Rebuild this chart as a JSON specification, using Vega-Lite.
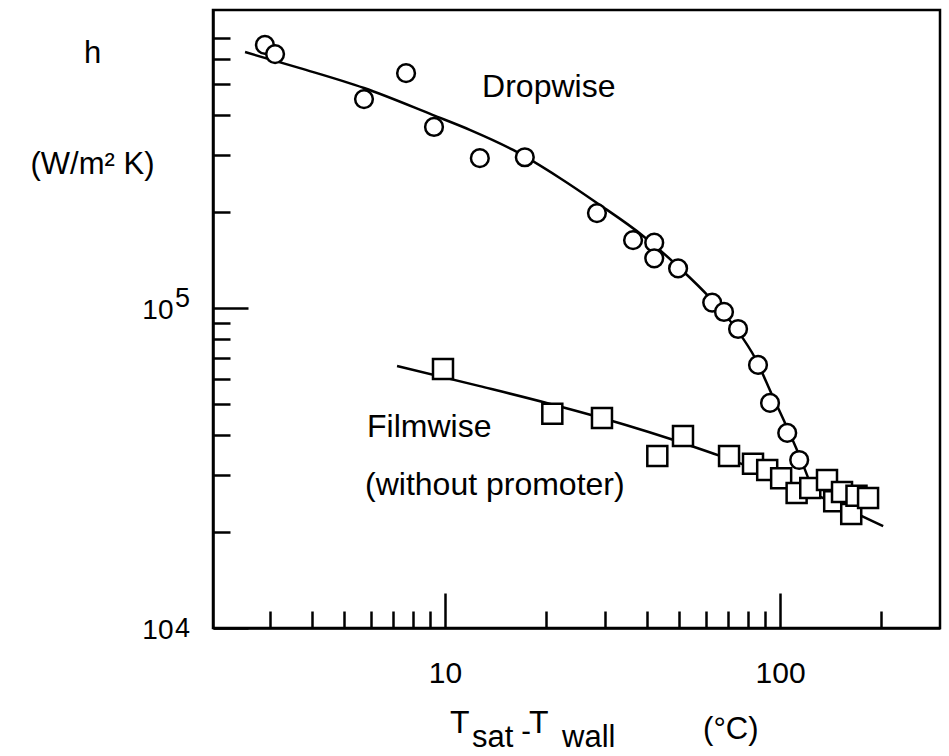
{
  "$schema": "https://vega.github.io/schema/vega-lite/v6.json",
  "width": 727,
  "height": 618,
  "autosize": {"type": "none"},
  "padding": {"left": 213, "top": 10, "right": 9, "bottom": 128},
  "background": "white",
  "config": {
    "view": {"stroke": "black", "strokeWidth": 2.5},
    "font": "Liberation Sans"
  },
  "datasets": {
    "drop_pts": [
      {"dT": 2.90, "h": 664000}, {"dT": 3.11, "h": 622000}, {"dT": 5.73, "h": 450000},
      {"dT": 7.65, "h": 542000}, {"dT": 9.27, "h": 368000}, {"dT": 12.7, "h": 294000},
      {"dT": 17.3, "h": 296000}, {"dT": 28.4, "h": 198000}, {"dT": 36.4, "h": 163000},
      {"dT": 42.1, "h": 160000}, {"dT": 42.1, "h": 143000}, {"dT": 49.6, "h": 133000},
      {"dT": 62.7, "h": 104000}, {"dT": 68.0, "h": 97200}, {"dT": 74.9, "h": 86000},
      {"dT": 85.9, "h": 66400}, {"dT": 93.3, "h": 50500}, {"dT": 105, "h": 40700},
      {"dT": 114, "h": 33500}
    ],
    "film_pts": [
      {"dT": 9.86, "h": 64500}, {"dT": 20.9, "h": 46700}, {"dT": 29.4, "h": 45300},
      {"dT": 43.0, "h": 34500}, {"dT": 51.3, "h": 39800}, {"dT": 70.4, "h": 34500},
      {"dT": 83.0, "h": 32600}, {"dT": 91.5, "h": 31200}, {"dT": 100.7, "h": 29400},
      {"dT": 112, "h": 26400}, {"dT": 123, "h": 27400}, {"dT": 138, "h": 29000},
      {"dT": 145, "h": 24900}, {"dT": 153, "h": 26600}, {"dT": 163, "h": 22700},
      {"dT": 169, "h": 25900}, {"dT": 183, "h": 25500}
    ],
    "drop_fit": [
      {"dT": 2.53, "h": 631000}, {"dT": 3.69, "h": 562000}, {"dT": 5.73, "h": 487000},
      {"dT": 9.21, "h": 401000}, {"dT": 11.9, "h": 360000}, {"dT": 15.96, "h": 312000},
      {"dT": 22.0, "h": 255000}, {"dT": 28.4, "h": 213000}, {"dT": 39.0, "h": 168000},
      {"dT": 50.3, "h": 133000}, {"dT": 61.8, "h": 107500}, {"dT": 74.4, "h": 85400},
      {"dT": 84.2, "h": 69800}, {"dT": 94.6, "h": 53500}, {"dT": 105, "h": 42200},
      {"dT": 114, "h": 34700}, {"dT": 121, "h": 29600}
    ],
    "film_fit": [
      {"dT": 7.19, "h": 65900}, {"dT": 12.7, "h": 57000}, {"dT": 20.1, "h": 50500},
      {"dT": 29.4, "h": 45300}, {"dT": 54.6, "h": 37000}, {"dT": 66.2, "h": 34500},
      {"dT": 114.8, "h": 27400}, {"dT": 203, "h": 20800}
    ],
    "labels": [
      {"dT": 12.9, "h": 456000, "text": "Dropwise"},
      {"dT": 5.85, "h": 39500, "text": "Filmwise"},
      {"dT": 5.77, "h": 26000, "text": "(without promoter)"}
    ],
    "exponents": [
      {"dT": 1.563, "h": 100700, "text": "5"},
      {"dT": 1.563, "h": 9374, "text": "4"}
    ],
    "xtitle": [
      {"dT": 10.35, "h": 4700, "text": "T", "kind": "main"},
      {"dT": 12.04, "h": 4246, "text": "sat", "kind": "sub"},
      {"dT": 16.87, "h": 4437, "text": "-", "kind": "dash"},
      {"dT": 17.8, "h": 4700, "text": "T", "kind": "main"},
      {"dT": 22.35, "h": 4246, "text": "wall", "kind": "sub"},
      {"dT": 58.9, "h": 4500, "text": "(°C)", "kind": "sub"}
    ]
  },
  "encoding": {
    "x": {
      "field": "dT",
      "type": "quantitative",
      "scale": {"type": "log", "domain": [2.03, 300], "nice": false},
      "axis": {
        "values": [3, 4, 5, 6, 7, 8, 9, 10, 20, 30, 40, 50, 60, 70, 80, 90, 100, 200],
        "labelExpr": "datum.value == 10 ? '10' : datum.value == 100 ? '100' : ''",
        "tickSize": {"condition": {"test": "datum.value == 10 || datum.value == 100", "value": -35}, "value": -17},
        "labelPadding": 89,
        "labelBaseline": "alphabetic",
        "labelFontSize": 30,
        "labelFont": "Liberation Sans",
        "labelColor": "black",
        "labelOverlap": false,
        "labelFlush": false,
        "title": null,
        "grid": false,
        "domainColor": "black",
        "domainWidth": 2.5,
        "tickColor": "black",
        "tickWidth": 2.5
      }
    },
    "y": {
      "field": "h",
      "type": "quantitative",
      "scale": {"type": "log", "domain": [10000, 854000], "nice": false},
      "axis": {
        "values": [10000, 20000, 30000, 40000, 50000, 60000, 70000, 80000, 90000, 100000, 200000, 300000, 400000, 500000, 600000, 700000],
        "labelExpr": "datum.value == 100000 || datum.value == 10000 ? '10' : ''",
        "tickSize": {"condition": {"test": "datum.value == 10000 || datum.value == 100000", "value": -35}, "value": -17},
        "labelPadding": 75,
        "labelBaseline": "alphabetic",
        "labelOffset": 10,
        "labelAlign": "right",
        "labelFontSize": 28,
        "labelFont": "Liberation Sans",
        "labelColor": "black",
        "labelOverlap": false,
        "labelFlush": false,
        "title": ["h", "(W/m² K)"],
        "titleFont": "Liberation Sans",
        "titleFontSize": 31,
        "titleFontWeight": "normal",
        "titleColor": "black",
        "titleAngle": 0,
        "titleAlign": "center",
        "titleBaseline": "alphabetic",
        "titleLineHeight": 111,
        "titleX": -121,
        "titleY": 52,
        "grid": false,
        "domainColor": "black",
        "domainWidth": 2.5,
        "tickColor": "black",
        "tickWidth": 2.5
      }
    }
  },
  "layer": [
    {
      "data": {"name": "drop_fit"},
      "mark": {"type": "line", "color": "black", "strokeWidth": 2.5, "interpolate": "monotone"}
    },
    {
      "data": {"name": "film_fit"},
      "mark": {"type": "line", "color": "black", "strokeWidth": 2.5, "interpolate": "monotone"}
    },
    {
      "data": {"name": "drop_pts"},
      "mark": {"type": "point", "shape": "circle", "filled": true, "fill": "white", "stroke": "black", "strokeWidth": 2.5, "size": 314, "opacity": 1}
    },
    {
      "data": {"name": "film_pts"},
      "mark": {"type": "point", "shape": "square", "filled": true, "fill": "white", "stroke": "black", "strokeWidth": 2.5, "size": 400, "opacity": 1}
    },
    {
      "data": {"name": "labels"},
      "mark": {"type": "text", "align": "left", "baseline": "alphabetic", "fontSize": 32, "font": "Liberation Sans", "color": "black"},
      "encoding": {"text": {"field": "text"}}
    },
    {
      "data": {"name": "exponents"},
      "mark": {"type": "text", "align": "left", "baseline": "alphabetic", "fontSize": 27, "font": "Liberation Sans", "color": "black"},
      "encoding": {"text": {"field": "text"}}
    },
    {
      "data": {"name": "xtitle"},
      "transform": [{"filter": "datum.kind == 'main'"}],
      "mark": {"type": "text", "align": "left", "baseline": "alphabetic", "fontSize": 32, "font": "Liberation Sans", "color": "black"},
      "encoding": {"text": {"field": "text"}}
    },
    {
      "data": {"name": "xtitle"},
      "transform": [{"filter": "datum.kind == 'dash'"}],
      "mark": {"type": "text", "align": "left", "baseline": "alphabetic", "fontSize": 29, "font": "Liberation Sans", "color": "black"},
      "encoding": {"text": {"field": "text"}}
    },
    {
      "data": {"name": "xtitle"},
      "transform": [{"filter": "datum.kind == 'sub'"}],
      "mark": {"type": "text", "align": "left", "baseline": "alphabetic", "fontSize": 31, "font": "Liberation Sans", "color": "black"},
      "encoding": {"text": {"field": "text"}}
    }
  ]
}
